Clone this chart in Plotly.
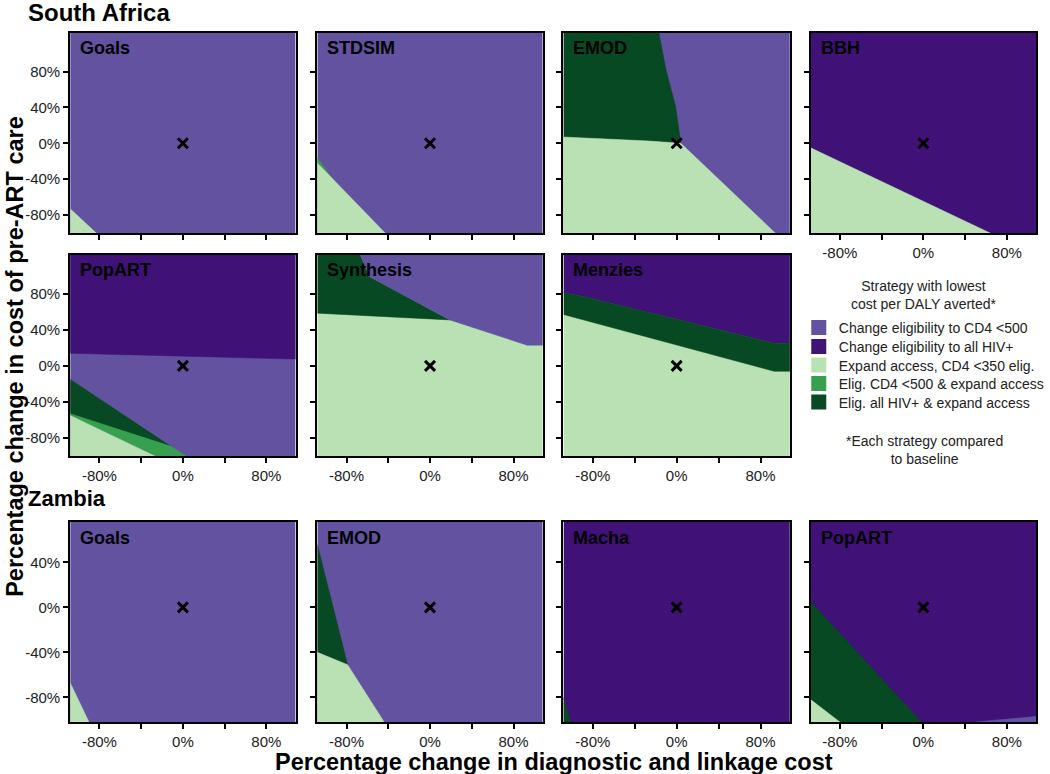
import plotly.graph_objects as go

# ---------------- data ----------------
STRATEGIES = [
    "Change eligibility to CD4 <500",
    "Change eligibility to all HIV+",
    "Expand access, CD4 <350 elig.",
    "Elig. CD4 <500 & expand access",
    "Elig. all HIV+ & expand access",
]
STRATEGY_COLORS = ["#6352A0", "#401176", "#BAE1B4", "#36A04E", "#074923"]

SA_MODELS = ["Goals", "STDSIM", "EMOD", "BBH", "PopART", "Synthesis", "Menzies"]
ZM_MODELS = ["Goals", "EMOD", "Macha", "PopART"]

# strategy filling the rest of each panel
SA_BACKGROUND = [0, 0, 0, 1, 0, 2, 2]
ZM_BACKGROUND = [0, 0, 1, 1]

# extent of the explored cost changes (%)
X_EDGES = [-108, 108]
SA_Y_EDGES = [-100, 123]
ZM_Y_EDGES = [-102, 76]

X_TICKS = [-80, -40, 0, 40, 80]
X_TICK_TEXT = ["-80%", "", "0%", "", "80%"]
SA_Y_TICKS = [-80, -40, 0, 40, 80]
ZM_Y_TICKS = [-80, -40, 0, 40]

BASELINE_X = [0]
BASELINE_Y = [0]

# ---- region boundaries (x: diagnostic & linkage cost %, y: pre-ART care cost %) ----
# South Africa
SA_GOALS_EXPAND_X = [-108, -83, -108]
SA_GOALS_EXPAND_Y = [-73, -100, -100]

SA_STDSIM_E500_X = [-108, -94, -108]
SA_STDSIM_E500_Y = [-16, -39, -22]
SA_STDSIM_EXPAND_X = [-108, -43, -108]
SA_STDSIM_EXPAND_Y = [-22, -100, -100]

SA_EMOD_EALL_X = [-108, -17, -10, -1, 4, -26, -108]
SA_EMOD_EALL_Y = [123, 123, 81, 41, 0, 2.5, 7]
SA_EMOD_EXPAND_X = [-108, -26, 4, 94, -108]
SA_EMOD_EXPAND_Y = [7, 2.5, 0, -100, -100]

SA_BBH_EXPAND_X = [-108, 64, -108]
SA_BBH_EXPAND_Y = [-5, -100, -100]

SA_POPART_ALL_X = [-108, 108, 108, -108]
SA_POPART_ALL_Y = [123, 123, 7.5, 14]
SA_POPART_EALL_X = [-108, -12, -108]
SA_POPART_EALL_Y = [-15, -89, -53]
SA_POPART_E500_X = [-108, -12, 3, -27, -108]
SA_POPART_E500_Y = [-53, -89, -100, -100, -55]
SA_POPART_EXPAND_X = [-108, -27, -108]
SA_POPART_EXPAND_Y = [-55, -100, -100]

SA_SYNTH_EALL_X = [-108, -67, -58, 19, -108]
SA_SYNTH_EALL_Y = [123, 123, 99, 51, 58.5]
SA_SYNTH_CD4_X = [-67, 108, 108, 93, 19, -58]
SA_SYNTH_CD4_Y = [123, 123, 23, 23, 51, 99]

SA_MENZ_ALL_X = [-108, 108, 108, 93, -89, -108]
SA_MENZ_ALL_Y = [123, 123, 25, 25, 77, 81]
SA_MENZ_EALL_X = [-108, -89, 93, 108, 108, 93, -108]
SA_MENZ_EALL_Y = [81, 77, 25, 25, -6, -6, 57]

# Zambia
ZM_GOALS_EXPAND_X = [-108, -90, -108]
ZM_GOALS_EXPAND_Y = [-67, -102, -102]

ZM_EMOD_EALL_X = [-108, -79, -108]
ZM_EMOD_EALL_Y = [56, -51, -40]
ZM_EMOD_EXPAND_X = [-108, -79, -44, -108]
ZM_EMOD_EXPAND_Y = [-40, -51, -102, -102]

ZM_MACHA_EALL_X = [-108, -101, -108]
ZM_MACHA_EALL_Y = [-80, -102, -102]

ZM_POPART_EALL_X = [-108, -1.5, -108]
ZM_POPART_EALL_Y = [5, -102, -102]
ZM_POPART_EXPAND_X = [-108, -80, -108]
ZM_POPART_EXPAND_Y = [-82, -102, -102]
ZM_POPART_CD4_X = [50, 108, 108]
ZM_POPART_CD4_Y = [-102, -97, -102]

# (panel number, strategy index, xs, ys) ; panels 1-7 South Africa, 8-11 Zambia
REGIONS = [
    (1, 2, SA_GOALS_EXPAND_X, SA_GOALS_EXPAND_Y),
    (2, 3, SA_STDSIM_E500_X, SA_STDSIM_E500_Y),
    (2, 2, SA_STDSIM_EXPAND_X, SA_STDSIM_EXPAND_Y),
    (3, 4, SA_EMOD_EALL_X, SA_EMOD_EALL_Y),
    (3, 2, SA_EMOD_EXPAND_X, SA_EMOD_EXPAND_Y),
    (4, 2, SA_BBH_EXPAND_X, SA_BBH_EXPAND_Y),
    (5, 1, SA_POPART_ALL_X, SA_POPART_ALL_Y),
    (5, 4, SA_POPART_EALL_X, SA_POPART_EALL_Y),
    (5, 3, SA_POPART_E500_X, SA_POPART_E500_Y),
    (5, 2, SA_POPART_EXPAND_X, SA_POPART_EXPAND_Y),
    (6, 4, SA_SYNTH_EALL_X, SA_SYNTH_EALL_Y),
    (6, 0, SA_SYNTH_CD4_X, SA_SYNTH_CD4_Y),
    (7, 1, SA_MENZ_ALL_X, SA_MENZ_ALL_Y),
    (7, 4, SA_MENZ_EALL_X, SA_MENZ_EALL_Y),
    (8, 2, ZM_GOALS_EXPAND_X, ZM_GOALS_EXPAND_Y),
    (9, 4, ZM_EMOD_EALL_X, ZM_EMOD_EALL_Y),
    (9, 2, ZM_EMOD_EXPAND_X, ZM_EMOD_EXPAND_Y),
    (10, 4, ZM_MACHA_EALL_X, ZM_MACHA_EALL_Y),
    (11, 4, ZM_POPART_EALL_X, ZM_POPART_EALL_Y),
    (11, 2, ZM_POPART_EXPAND_X, ZM_POPART_EXPAND_Y),
    (11, 0, ZM_POPART_CD4_X, ZM_POPART_CD4_Y),
]

# ---------------- layout geometry (pixels) ----------------
W, H = 1050, 774
COLS = [(71, 299), (321, 549), (570, 799), (820, 1048)]
ROWS = [(33, 233), (255, 456), (522, 722)]
# panel -> (row, col)
PANEL_POS = [(0, 0), (0, 1), (0, 2), (0, 3), (1, 0), (1, 1), (1, 2),
             (2, 0), (2, 1), (2, 2), (2, 3)]
XLABEL_PANELS = {4, 5, 6, 7, 8, 9, 10, 11}
LEGEND_ROW_Y = [328, 347, 365.5, 384, 402.5]

FONT = "Liberation Sans, Arial, Helvetica, sans-serif"

fig = go.Figure()
layout_axes = {}
annotations = []

names = SA_MODELS + ZM_MODELS
backgrounds = SA_BACKGROUND + ZM_BACKGROUND

for p in range(1, 12):
    r, c = PANEL_POS[p - 1]
    zambia = p >= 8
    yedges = ZM_Y_EDGES if zambia else SA_Y_EDGES
    xs_ax = "x" if p == 1 else f"x{p}"
    ys_ax = "y" if p == 1 else f"y{p}"
    b = backgrounds[p - 1]
    fig.add_trace(go.Scatter(
        x=[X_EDGES[0], X_EDGES[1], X_EDGES[1], X_EDGES[0]],
        y=[yedges[0], yedges[0], yedges[1], yedges[1]],
        fill="toself", fillcolor=STRATEGY_COLORS[b], mode="lines",
        line=dict(width=0, color=STRATEGY_COLORS[b]),
        showlegend=False, hoverinfo="skip", xaxis=xs_ax, yaxis=ys_ax))
    for (rp, s, xs, ys) in REGIONS:
        if rp != p:
            continue
        fig.add_trace(go.Scatter(
            x=xs, y=ys, fill="toself", fillcolor=STRATEGY_COLORS[s], mode="lines",
            line=dict(width=0.5, color=STRATEGY_COLORS[s]),
            showlegend=False, hoverinfo="skip", xaxis=xs_ax, yaxis=ys_ax))
    fig.add_trace(go.Scatter(
        x=BASELINE_X, y=BASELINE_Y, mode="markers",
        marker=dict(symbol="x-thin", size=10, line=dict(width=3, color="black"), color="black"),
        showlegend=False, hoverinfo="skip", xaxis=xs_ax, yaxis=ys_ax))

    x0, x1 = COLS[c]
    y0, y1 = ROWS[r]
    suffix = "" if p == 1 else str(p)
    layout_axes[f"xaxis{suffix}"] = dict(
        domain=[x0 / W, x1 / W], range=X_EDGES, anchor=ys_ax,
        tickmode="array", tickvals=X_TICKS, ticktext=X_TICK_TEXT,
        showticklabels=p in XLABEL_PANELS,
        ticks="outside", ticklen=5, tickwidth=1.5, tickcolor="black",
        showline=True, mirror=True, linecolor="black", linewidth=2,
        showgrid=False, zeroline=False, fixedrange=True,
        tickfont=dict(family=FONT, size=15, color="#222222"))
    yt = ZM_Y_TICKS if zambia else SA_Y_TICKS
    layout_axes[f"yaxis{suffix}"] = dict(
        domain=[1 - y1 / H, 1 - y0 / H], range=yedges, anchor=xs_ax,
        tickmode="array", tickvals=yt, ticktext=[f"{v}%" for v in yt],
        showticklabels=(c == 0),
        ticks="outside", ticklen=5, tickwidth=1.5, tickcolor="black",
        showline=True, mirror=True, linecolor="black", linewidth=2,
        showgrid=False, zeroline=False, fixedrange=True,
        tickfont=dict(family=FONT, size=15, color="#222222"))
    annotations.append(dict(
        text=f"<b>{names[p - 1]}</b>", xref=f"{xs_ax} domain", yref=f"{ys_ax} domain",
        x=0.035, y=1 - 15.5 / (y1 - y0), xanchor="left", yanchor="middle",
        showarrow=False, font=dict(family=FONT, size=18, color="black")))

# legend entries, one small legend per strategy so rows sit at the reference spacing
legend_layouts = {}
for s, name in enumerate(STRATEGIES):
    lname = "legend" if s == 0 else f"legend{s + 1}"
    fig.add_trace(go.Scatter(
        x=[None], y=[None], mode="markers", name=name, legend=lname,
        marker=dict(symbol="square", size=15, color=STRATEGY_COLORS[s]),
        xaxis="x", yaxis="y", hoverinfo="skip"))
    legend_layouts[lname] = dict(
        x=808 / W, y=1 - LEGEND_ROW_Y[s] / H, xanchor="left", yanchor="middle",
        bgcolor="rgba(0,0,0,0)", borderwidth=0,
        font=dict(family=FONT, size=14, color="#222222"),
        itemclick=False, itemdoubleclick=False)

annotations += [
    dict(text="<b>South Africa</b>", xref="paper", yref="paper", x=26 / W, y=1 - 12 / H,
         xanchor="left", yanchor="middle", showarrow=False,
         font=dict(family=FONT, size=24, color="black")),
    dict(text="<b>Zambia</b>", xref="paper", yref="paper", x=26 / W, y=1 - 499 / H,
         xanchor="left", yanchor="middle", showarrow=False,
         font=dict(family=FONT, size=22, color="black")),
    dict(text="<b>Percentage change in diagnostic and linkage cost</b>", xref="paper", yref="paper",
         x=560 / W, y=1 - 762 / H, xanchor="center", yanchor="middle", showarrow=False,
         font=dict(family=FONT, size=23.5, color="black")),
    dict(text="<b>Percentage change in cost of pre-ART care</b>", xref="paper", yref="paper",
         x=15 / W, y=1 - 356 / H, xanchor="center", yanchor="middle", showarrow=False,
         textangle=-90, font=dict(family=FONT, size=23.5, color="black")),
    dict(text="Strategy with lowest<br>cost per DALY averted*", xref="paper", yref="paper",
         x=935 / W, y=1 - 295 / H, xanchor="center", yanchor="middle", showarrow=False,
         font=dict(family=FONT, size=14, color="#222222")),
    dict(text="*Each strategy compared<br>to baseline", xref="paper", yref="paper",
         x=935 / W, y=1 - 450 / H, xanchor="center", yanchor="middle", showarrow=False,
         font=dict(family=FONT, size=14, color="#222222")),
]

fig.update_layout(
    width=W, height=H,
    margin=dict(l=0, r=0, t=0, b=0),
    paper_bgcolor="white", plot_bgcolor="white",
    showlegend=True,
    annotations=annotations,
    **legend_layouts,
    **layout_axes,
)

fig.write_html("out.html", config={"displayModeBar": False},
               post_script="document.body.style.margin='0';")
